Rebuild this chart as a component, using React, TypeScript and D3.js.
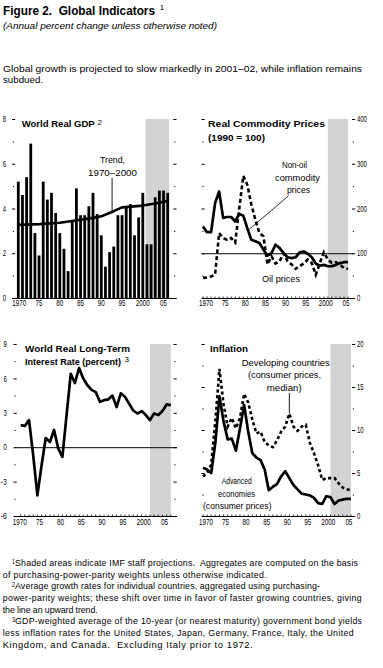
import React from "react";
import * as d3 from "d3";

// ---------------- DATA ----------------
const years = d3.range(1970, 2007);

const gdpGrowth = [5.2, 4.6, 5.4, 6.9, 2.9, 1.9, 5.2, 4.4, 4.7, 3.8, 2.9, 2.2, 1.2, 3.4, 4.9, 3.7, 3.7, 4.1, 4.7, 3.75, 2.8, 1.4, 2.05, 2.3, 3.7, 3.7, 4.05, 4.2, 2.8, 3.6, 4.7, 2.4, 2.4, 4.5, 4.8, 4.8, 4.7];
const trendYears = [1970, 1975, 1980, 1985, 1988, 1990, 1993, 1995, 2000, 2003, 2006];
const trendValues = [3.27, 3.3, 3.36, 3.5, 3.58, 3.65, 3.88, 4.05, 4.13, 4.22, 4.34];

const nonOilPrices = [160, 147, 147, 212, 238, 179, 181, 181, 171, 188, 184, 156, 130, 127, 123, 108, 95, 100, 119, 112, 100, 91, 89, 91, 102, 104, 99, 91, 77, 72, 74, 71, 71, 74, 78, 80, 80];
const oilPrices = [45, 46, 48, 52, 145, 134, 130, 134, 124, 200, 273, 253, 209, 175, 145, 138, 75, 93, 77, 82, 100, 82, 75, 65, 71, 77, 86, 78, 52, 78, 102, 86, 78, 80, 74, 67, 65];

const interestRate = [1.92, 1.86, 2.36, -0.7, -4.2, -1.6, 0.8, 0.45, 1.5, -0.1, -0.85, 2.8, 6.4, 5.6, 6.9, 6.0, 5.4, 5.0, 4.8, 3.96, 4.1, 4.17, 4.5, 3.5, 4.7, 4.4, 3.8, 3.2, 2.94, 3.15, 2.8, 2.36, 2.94, 2.8, 3.15, 3.73, 3.67];

const advancedInflation = [5.6, 5.4, 5.0, 8.5, 13.9, 11.0, 8.9, 9.0, 7.6, 10.2, 12.9, 9.8, 7.3, 6.8, 6.5, 5.4, 3.0, 3.4, 3.7, 4.6, 5.2, 4.4, 3.6, 3.1, 2.6, 2.5, 2.4, 2.1, 1.5, 1.4, 2.3, 2.2, 1.4, 1.8, 1.9, 2.0, 2.0];
const developingInflation = [4.6, 5.0, 6.0, 11.0, 17.1, 13.0, 10.4, 11.4, 10.2, 11.4, 14.2, 13.2, 11.2, 9.6, 9.8, 8.6, 8.2, 8.0, 8.8, 9.8, 10.4, 11.9, 10.4, 9.9, 10.4, 10.6, 8.5, 7.3, 5.9, 4.2, 4.4, 4.4, 4.4, 3.8, 3.3, 3.1, 3.0];

const xTickYears = [1970, 1975, 1980, 1985, 1990, 1995, 2000, 2005];
const xTickLabels = ["1970", "75", "80", "85", "90", "95", "2000", "05"];

const gdpMajor = [0, 2, 4, 6, 8];
const gdpMinor = [1, 3, 5, 7];
const commodityMajor = [0, 100, 200, 300, 400];
const commodityMinor = [50, 150, 250, 350];
const interestMajor = [-6, -3, 0, 3, 6, 9];
const interestMinor = [-4.5, -1.5, 1.5, 4.5, 7.5];
const inflationMajor = [0, 5, 10, 15, 20];
const inflationMinor = [2.5, 7.5, 12.5, 17.5];

const footnotes = [
  { sup: "1", text: "Shaded areas indicate IMF staff projections.\u00a0 Aggregates are computed on the basis", w: 343, size: 8.8 },
  { sup: "", text: "of purchasing-power-parity weights unless otherwise indicated.", w: 264, size: 8.8 },
  { sup: "2", text: "Average growth rates for individual countries, aggregated using purchasing-", w: 305, size: 8.8 },
  { sup: "", text: "power-parity weights; these shift over time in favor of faster growing countries, giving", w: 359, size: 8.8 },
  { sup: "", text: "the line an upward trend.", w: 95, size: 8.8 },
  { sup: "3", text: "GDP-weighted average of the 10-year (or nearest maturity) government bond yields", w: 347, size: 8.8 },
  { sup: "", text: "less inflation rates for the United States, Japan, Germany, France, Italy, the United", w: 351, size: 8.8 },
  { sup: "", text: "Kingdom, and Canada.\u00a0 Excluding Italy prior to 1972.", w: 250, size: 9.4 },
];

// ---------------- HELPERS ----------------
const FONT = "'Liberation Sans Narrow','Liberation Sans',Arial,Helvetica,sans-serif";
const SHADE = "#d3d3d3";

type TP = {
  x: number; y: number; w?: number; size?: number; bold?: boolean; italic?: boolean;
  anchor?: "start" | "middle" | "end"; adjust?: "spacing" | "spacingAndGlyphs"; children: React.ReactNode;
};
function T({ x, y, w, size = 9, bold = false, italic = false, anchor = "start", adjust = "spacingAndGlyphs", children }: TP) {
  return (
    <text
      x={x}
      y={Math.round(y)}
      fontSize={size}
      fontWeight={bold ? "bold" : "normal"}
      fontStyle={italic ? "italic" : "normal"}
      textAnchor={anchor}
      fontFamily={FONT}
      fill="#000"
      textLength={w}
      lengthAdjust={w ? adjust : undefined}
    >
      {children}
    </text>
  );
}

type AxisSpec = {
  x: d3.ScaleLinear<number, number>;
  y: d3.ScaleLinear<number, number>;
  major: number[];
  minor: number[];
  leftTick: number;
  rightTick: number;
  labelSide: "left" | "right";
  labelX: number;
  axisX0: number;
  axisX1: number;
  labelY: number;
  labelDx: number;
};

function Axes(s: AxisSpec) {
  const base = s.y(s.y.domain()[0]);
  const digitW = 3.3;
  return (
    <g>
      {s.major.map((v) => (
        <g key={"M" + v}>
          <line x1={s.leftTick} x2={s.leftTick + 3.2} y1={s.y(v) + 0.5} y2={s.y(v) + 0.5} stroke="#000" strokeWidth={1} />
          <line x1={s.rightTick} x2={s.rightTick + 3.2} y1={s.y(v) + 0.5} y2={s.y(v) + 0.5} stroke="#000" strokeWidth={1} />
        </g>
      ))}
      {s.minor.map((v) => (
        <g key={"m" + v}>
          <line x1={s.leftTick + 0.8} x2={s.leftTick + 2} y1={s.y(v) + 0.5} y2={s.y(v) + 0.5} stroke="#000" strokeWidth={1} />
          <line x1={s.rightTick + 0.8} x2={s.rightTick + 2} y1={s.y(v) + 0.5} y2={s.y(v) + 0.5} stroke="#000" strokeWidth={1} />
        </g>
      ))}
      {s.major.map((v) => {
        const str = String(v);
        const w = str.length * digitW + (str.startsWith("-") ? -0.5 : 0);
        return s.labelSide === "left" ? (
          <T key={"L" + v} x={s.labelX - w} y={s.y(v) + 3.2} w={w} size={8.5}>{str}</T>
        ) : (
          <T key={"L" + v} x={s.labelX} y={s.y(v) + 3.2} w={w} size={8.5}>{str}</T>
        );
      })}
      <line x1={s.axisX0} x2={s.axisX1} y1={base + 0.5} y2={base + 0.5} stroke="#000" strokeWidth={1} />
      {years.map((yr) => (
        <line key={"xt" + yr} x1={s.x(yr)} x2={s.x(yr)} y1={base} y2={base - 1.5} stroke="#000" strokeWidth={0.8} />
      ))}
      {xTickYears.map((yr, i) => {
        const lab = xTickLabels[i];
        const w = lab.length * 3.5;
        const cx = s.x(yr) + (i === 0 ? s.labelDx + 1 : s.labelDx);
        return (
          <T key={"xl" + yr} x={cx - w / 2} y={s.labelY} w={w} size={8.5}>{lab}</T>
        );
      })}
    </g>
  );
}

// ---------------- PANELS ----------------
function GdpPanel() {
  const x = d3.scaleLinear().domain([1970, 2006]).range([18.3, 167.7]);
  const y = d3.scaleLinear().domain([0, 8]).range([298, 119]);
  const trend = d3.line<number>().x((_, i) => x(trendYears[i])).y((d) => y(d));
  return (
    <g>
      <rect x={x(2000.7)} y={y(8)} width={x(2006.3) - x(2000.7)} height={y(0) - y(8)} fill={SHADE} />
      {gdpGrowth.map((v, i) => (
        <rect key={i} x={x(years[i]) - 1.4} y={y(v)} width={2.8} height={y(0) - y(v)} fill="#000" />
      ))}
      <path d={trend(trendValues) || ""} fill="none" stroke="#000" strokeWidth={2.6} strokeLinejoin="round" />
      <Axes x={x} y={y} major={gdpMajor} minor={gdpMinor} leftTick={12} rightTick={173.3} labelSide="left" labelX={6} axisX0={12} axisX1={176.5} labelY={306} labelDx={0} />
      <T x={21.7} y={127.3} w={73} size={9.5} bold>World Real GDP</T>
      <T x={97.5} y={125} w={4.5} size={7.5}>2</T>
      <T x={100} y={163} w={25} size={9}>Trend,</T>
      <T x={88} y={175.5} w={49} size={9}>1970–2000</T>
      <line x1={x(1992.6)} x2={x(1992.6)} y1={178} y2={y(3.84)} stroke="#000" strokeWidth={0.9} />
    </g>
  );
}

function CommodityPanel() {
  const x = d3.scaleLinear().domain([1970, 2006]).range([203, 348]);
  const y = d3.scaleLinear().domain([0, 400]).range([298, 119]);
  const line = d3.line<number>().x((_, i) => x(years[i])).y((d) => y(d));
  return (
    <g>
      <rect x={x(2001)} y={y(400)} width={x(2006) - x(2001)} height={y(0) - y(400)} fill={SHADE} />
      <line x1={202} x2={353} y1={y(100) + 0.5} y2={y(100) + 0.5} stroke="#000" strokeWidth={1} />
      <path d={line(oilPrices) || ""} fill="none" stroke="#000" strokeWidth={2.6} strokeDasharray="4,2.8" />
      <path d={line(nonOilPrices) || ""} fill="none" stroke="#000" strokeWidth={2.7} strokeLinejoin="round" />
      <Axes x={x} y={y} major={commodityMajor} minor={commodityMinor} leftTick={201.5} rightTick={352} labelSide="right" labelX={357} axisX0={202} axisX1={353} labelY={306} labelDx={2} />
      <T x={208} y={127} w={117} size={9.5} bold>Real Commodity Prices</T>
      <T x={208} y={140.5} w={57} size={9.5} bold>(1990 = 100)</T>
      <T x={282} y={168} w={25} size={9}>Non-oil</T>
      <T x={275} y={180.7} w={45} size={9}>commodity</T>
      <T x={287} y={193} w={23} size={9}>prices</T>
      <line x1={288.3} y1={196} x2={249.3} y2={229.3} stroke="#000" strokeWidth={0.8} />
      <T x={262} y={281.7} w={38} size={9}>Oil prices</T>
    </g>
  );
}

function InterestPanel() {
  const x = d3.scaleLinear().domain([1970, 2006]).range([20.7, 170.8]);
  const y = d3.scaleLinear().domain([-6, 9]).range([516, 344]);
  const line = d3.line<number>().x((_, i) => x(years[i])).y((d) => y(d));
  return (
    <g>
      <rect x={x(2001)} y={y(9)} width={x(2006) - x(2001)} height={y(-6) - y(9)} fill={SHADE} />
      <line x1={15} x2={177} y1={y(0) + 0.5} y2={y(0) + 0.5} stroke="#000" strokeWidth={1} />
      <path d={line(interestRate) || ""} fill="none" stroke="#000" strokeWidth={2.7} strokeLinejoin="round" />
      <Axes x={x} y={y} major={interestMajor} minor={interestMinor} leftTick={13.5} rightTick={173.5} labelSide="left" labelX={6.7} axisX0={15} axisX1={177} labelY={525} labelDx={-2} />
      <T x={25} y={351.7} w={105} size={9.5} bold>World Real Long-Term</T>
      <T x={25} y={365} w={96} size={9.5} bold>Interest Rate (percent)</T>
      <T x={124.5} y={361.5} w={4.5} size={7.5}>3</T>
    </g>
  );
}

function InflationPanel() {
  const x = d3.scaleLinear().domain([1970, 2006]).range([203, 351]);
  const y = d3.scaleLinear().domain([0, 20]).range([516, 344]);
  const line = d3.line<number>().x((_, i) => x(years[i])).y((d) => y(d));
  return (
    <g>
      <rect x={x(2001)} y={y(20)} width={x(2006) - x(2001)} height={y(0) - y(20)} fill={SHADE} />
      <path d={line(developingInflation) || ""} fill="none" stroke="#000" strokeWidth={2.6} strokeDasharray="3.2,2.6" />
      <path d={line(advancedInflation) || ""} fill="none" stroke="#000" strokeWidth={2.7} strokeLinejoin="round" />
      <Axes x={x} y={y} major={inflationMajor} minor={inflationMinor} leftTick={201.5} rightTick={352} labelSide="right" labelX={357} axisX0={202} axisX1={353} labelY={525} labelDx={2} />
      <T x={210} y={351.7} w={38} size={9.5} bold>Inflation</T>
      <T x={241.7} y={365.7} w={88} size={9}>Developing countries</T>
      <T x={248} y={378} w={73} size={9}>(consumer prices,</T>
      <T x={266.7} y={391} w={35} size={9}>median)</T>
      <line x1={x(1991)} x2={x(1991)} y1={393} y2={y(11.9)} stroke="#000" strokeWidth={0.9} />
      <T x={221.7} y={484} w={30} size={9}>Advanced</T>
      <T x={218} y={496.7} w={37} size={9}>economies</T>
      <T x={203} y={509} w={68.5} size={9}>(consumer prices)</T>
    </g>
  );
}

// ---------------- APP ----------------
export default function App() {
  return (
    <svg
      width={383}
      height={668}
      viewBox="0 0 383 668"
      style={{ position: "absolute", left: 0, top: 0, display: "block", background: "#fff" }}
    >
      <rect x={0} y={0} width={383} height={668} fill="#fff" />
      <T x={3} y={15} w={152} size={12.5} bold>{"Figure 2.\u00a0 Global Indicators"}</T>
      <T x={160.5} y={10} w={3} size={7} bold>1</T>
      <T x={3} y={29} w={214} size={9.5} italic>(Annual percent change unless otherwise noted)</T>
      <T x={3} y={71.7} w={359} size={9.5}>Global growth is projected to slow markedly in 2001–02, while inflation remains</T>
      <T x={3} y={83} w={40} size={9.5}>subdued.</T>

      <GdpPanel />
      <CommodityPanel />
      <InterestPanel />
      <InflationPanel />

      {footnotes.map((f, i) => {
        const by = 566 + i * 11.68;
        return (
          <g key={i}>
            {f.sup ? <T x={12} y={by - 2.5} w={3} size={6.5}>{f.sup}</T> : null}
            <T x={f.sup ? 15 : 2.7} y={by} w={f.w} size={f.size} adjust="spacing">{f.text}</T>
          </g>
        );
      })}
    </svg>
  );
}
